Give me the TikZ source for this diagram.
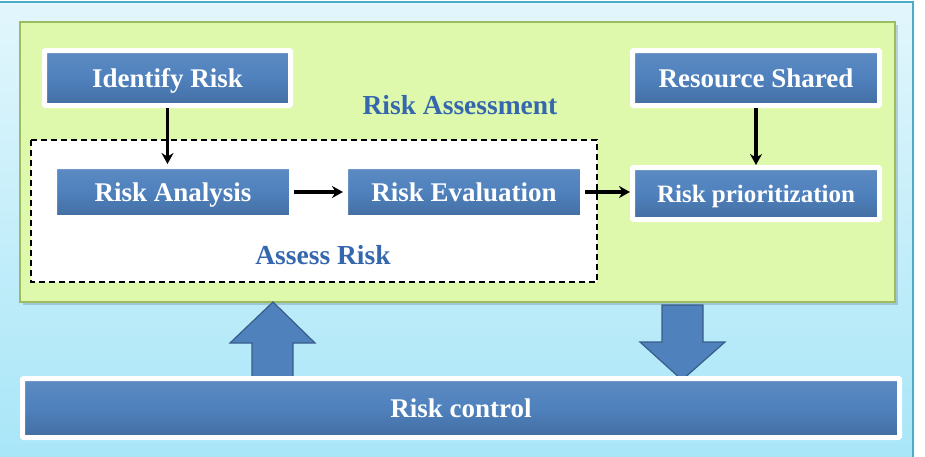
\documentclass[tikz,border=0pt]{standalone}
\usepackage{fontspec}
\setmainfont{Liberation Serif}
\usetikzlibrary{arrows.meta,shadows}
\definecolor{boxblue}{HTML}{4F81BD}
\definecolor{boxdark}{HTML}{385D8A}
\definecolor{panelgreen}{HTML}{DFF9AC}
\definecolor{panelline}{HTML}{9DBB61}
\definecolor{labelblue}{HTML}{3567AE}
\definecolor{frameteal}{HTML}{4BACC6}
\definecolor{bgtop}{HTML}{E2F6FC}
\definecolor{bgbot}{HTML}{A8E6F8}
\tikzset{
  bluebox/.style={draw=white, line width=5pt, top color=boxblue!92!white, bottom color=boxblue!85!black,
    middle color=boxblue, inner sep=0pt, rounded corners=1pt,
    text height=18.5pt, text depth=0pt,
    text=white, font=\bfseries\fontsize{27}{30}\selectfont,
    drop shadow={shadow xshift=1.5pt, shadow yshift=-2pt, opacity=0.3}},
  flowarrow/.style={line width=3.2pt, -{Stealth[length=11pt,width=12pt]}},
  grouplabel/.style={text=labelblue, font=\bfseries\fontsize{27.5}{30}\selectfont},
  blockarrow/.style={fill=boxblue, draw=boxdark, line width=1.2pt, line join=miter}
}
\begin{document}
\begin{tikzpicture}[x=1pt,y=-1pt]
\useasboundingbox (0,0) rectangle (925,456);
\fill[white] (0,0) rectangle (925,456);
\shade[top color=bgtop, bottom color=bgbot] (0,2) rectangle (913,458);
\draw[frameteal, line width=1.5pt] (0,2) -- (913,2) -- (913,458);
% green panel
\fill[black, opacity=0.15] (23,25) rectangle (898,305);
\draw[panelline, fill=panelgreen, line width=1.2pt] (20,22) rectangle (895,302);
% dashed group
\draw[black, fill=white, line width=1.6pt, dash pattern=on 6pt off 4pt] (31,140) rectangle (597,282);
% labels
\node[grouplabel] (lra) at (460,105) {Risk Assessment};
\node[grouplabel] (lar) at (323,255) {Assess Risk};
% boxes
\node[bluebox, minimum width=246pt, minimum height=55pt] (id) at (167.5,78) {Identify Risk};
\node[bluebox, minimum width=247pt, minimum height=55pt] (rs) at (756,78) {Resource Shared};
\node[bluebox, minimum width=237pt, minimum height=51pt] (ra) at (173,192) {Risk Analysis};
\node[bluebox, minimum width=237pt, minimum height=51pt] (re) at (464,192) {Risk Evaluation};
\node[bluebox, minimum width=247pt, minimum height=52pt, text height=17pt, font=\bfseries\fontsize{25}{28}\selectfont] (rp) at (756,193.5) {Risk prioritization};
% block arrows (drawn before risk control)
\draw[blockarrow] (252,380) -- (252,343) -- (230,343) -- (273,302) -- (315,343) -- (293,343) -- (293,380);
\draw[blockarrow] (662,305) -- (703,305) -- (703,342) -- (725,342) -- (682,380) -- (640,342) -- (662,342) -- cycle;
\node[bluebox, minimum width=877pt, minimum height=59pt] (rc) at (461,408) {Risk control};
% connectors
\draw[flowarrow] (id.south) -- (id.south |- ra.north);
\draw[flowarrow] (rs.south) -- (rs.south |- rp.north);
\draw[flowarrow] (ra.east) -- (re.west);
\draw[flowarrow] (re.east) -- (re.east -| rp.west);
\end{tikzpicture}
\end{document}
